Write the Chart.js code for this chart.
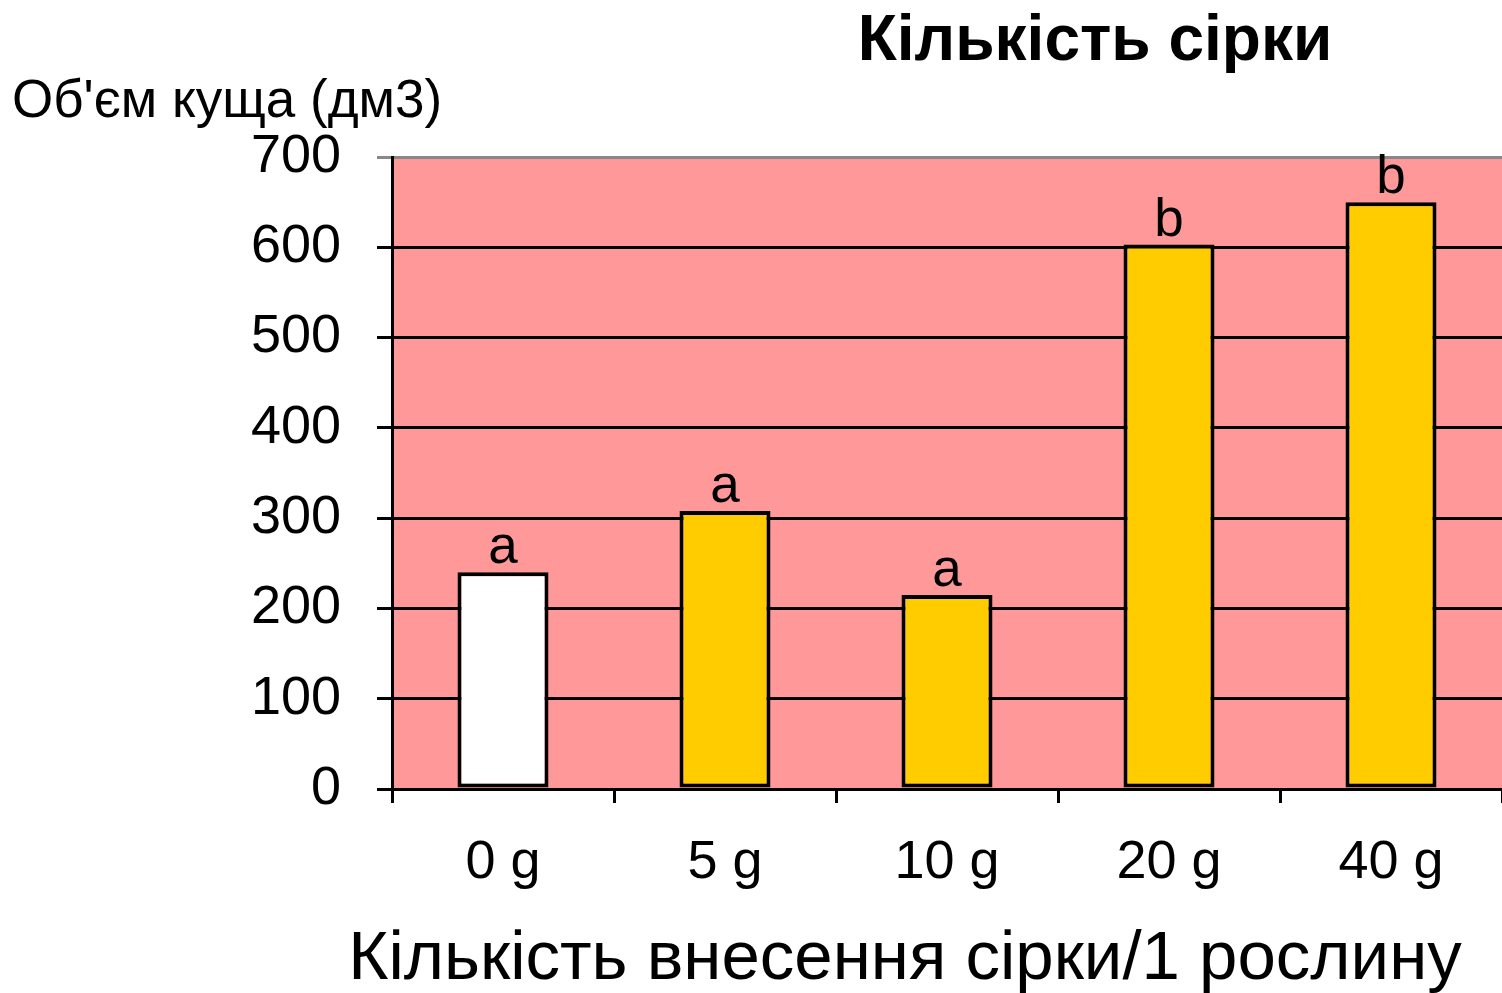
<!DOCTYPE html>
<html>
<head>
<meta charset="utf-8">
<script src="https://cdn.jsdelivr.net/npm/chart.js@4"></script>
<style>
  body { margin: 0; background: #fff; }
  #wrap { width: 1502px; height: 993px; }
</style>
</head>
<body>
<div id="wrap"><canvas id="chart" width="1502" height="993"></canvas></div>
<script>
// data
const categories = ['0 g', '5 g', '10 g', '20 g', '40 g'];
const bushVolume = [240, 308, 215, 603, 650];
const groupLetters = ['a', 'a', 'a', 'b', 'b'];
const barColors = ['#ffffff', '#ffcc00', '#ffcc00', '#ffcc00', '#ffcc00'];

const chartTitle = 'Кількість сірки';
const yTitle = "Об'єм куща (дм3)";
const xTitle = 'Кількість внесення сірки/1 рослину';

const FONT = '"Liberation Sans", Arial, sans-serif';

// pink plot background
const plotBg = {
    id: 'plotBg',
    beforeDraw(chart) {
        const { ctx, chartArea: a } = chart;
        ctx.save();
        ctx.fillStyle = '#ff9999';
        ctx.fillRect(a.left, a.top, a.right - a.left, a.bottom - a.top);
        ctx.restore();
    }
};

// letters above bars + titles
const labels = {
    id: 'labels',
    afterDatasetsDraw(chart) {
        const ctx = chart.ctx;
        const meta = chart.getDatasetMeta(0);
        ctx.save();
        ctx.fillStyle = '#000';
        ctx.textAlign = 'center';
        ctx.textBaseline = 'alphabetic';
        ctx.font = '53px ' + FONT;
        meta.data.forEach((bar, i) => {
            ctx.fillText(groupLetters[i], bar.x, bar.y - 9);
        });
        ctx.restore();
    },
    afterDraw(chart) {
        const ctx = chart.ctx;
        ctx.save();
        ctx.fillStyle = '#000';
        ctx.textBaseline = 'alphabetic';
        ctx.textAlign = 'center';
        ctx.font = 'bold 64px ' + FONT;
        ctx.fillText(chartTitle, 1095, 60);
        ctx.textAlign = 'left';
        ctx.font = '53px ' + FONT;
        ctx.fillText(yTitle, 12, 117);
        ctx.textAlign = 'center';
        ctx.font = '69px ' + FONT;
        ctx.fillText(xTitle, 905, 979);
        ctx.restore();
    }
};

new Chart(document.getElementById('chart'), {
    type: 'bar',
    data: {
        labels: categories,
        datasets: [{
            data: bushVolume,
            backgroundColor: barColors,
            borderColor: '#000',
            borderWidth: 4,
            borderSkipped: false,
            barPercentage: 0.41,
            categoryPercentage: 1
        }]
    },
    options: {
        responsive: false,
        animation: false,
        layout: { padding: { top: 157, right: 0, left: 0, bottom: 0 } },
        plugins: {
            legend: { display: false },
            tooltip: { enabled: false }
        },
        scales: {
            x: {
                afterFit(scale) { scale.height = 204; },
                grid: {
                    offset: true,
                    drawOnChartArea: false,
                    color: '#000',
                    lineWidth: 3,
                    tickLength: 14
                },
                border: { color: '#000', width: 3 },
                ticks: {
                    color: '#000',
                    font: { family: FONT, size: 54 },
                    padding: 28
                }
            },
            y: {
                min: 0,
                max: 700,
                afterFit(scale) { scale.width = 392; },
                grid: {
                    color: ctx => ctx.tick && ctx.tick.value === 700 ? '#888888' : '#000',
                    lineWidth: 3,
                    tickLength: 15
                },
                border: { color: '#000', width: 3 },
                ticks: {
                    stepSize: 100,
                    color: '#000',
                    font: { family: FONT, size: 54 },
                    padding: 36
                }
            }
        }
    },
    plugins: [plotBg, labels]
});
</script>
</body>
</html>
